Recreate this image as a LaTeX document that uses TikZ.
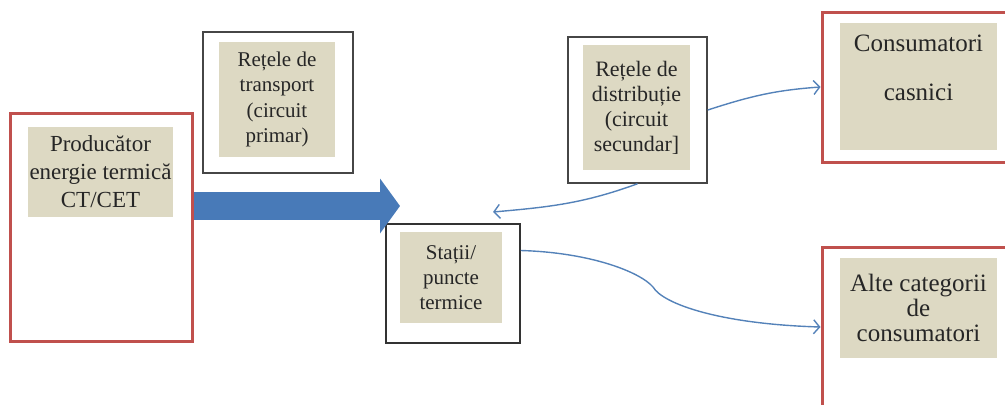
\documentclass[tikz,border=0pt]{standalone}
\usepackage{fontspec}
\setmainfont{Liberation Serif}
\usetikzlibrary{arrows.meta, positioning}
\definecolor{framered}{RGB}{192,80,77}
\definecolor{framegray}{RGB}{70,70,70}
\definecolor{panelbeige}{RGB}{221,217,195}
\definecolor{flowblue}{RGB}{72,122,184}
\definecolor{linkblue}{RGB}{84,130,185}

\begin{document}
\begin{tikzpicture}[x=0.5pt, y=0.5pt,
  redframe/.style={draw=framered, line width=1.5pt, fill=white, inner sep=0pt},
  grayframe/.style={draw=framegray, line width=0.75pt, fill=white, inner sep=0pt},
  panel/.style={fill=panelbeige, align=center, inner sep=0pt, text=black!85},
  link/.style={draw=linkblue, line width=0.7pt, -{Straight Barb[length=3pt, width=7pt]}}]
  \useasboundingbox (0,0) rectangle (1005,404);
  \clip (0,0) rectangle (1005,404);

  % producer
  \node[redframe, minimum width=91pt, minimum height=114pt] (prod) at (101,177) {};
  \node[panel, minimum width=72.5pt, minimum height=45pt, font=\fontsize{11.5}{14}\selectfont] (prodtxt) at (100.5,232) {Producător\\energie termică\\CT/CET};

  % primary network
  \node[grayframe, minimum width=75pt, minimum height=70.5pt] (transp) at (278,301.5) {};
  \node[panel, minimum width=58pt, minimum height=57.5pt, font=\fontsize{10.5}{12.75}\selectfont] (transptxt) at (277,304.5) {Rețele de\\transport\\(circuit\\primar)};

  % substations
  \node[grayframe, draw=black!80, minimum width=67pt, minimum height=59.5pt] (statii) at (453,120.5) {};
  \node[panel, minimum width=51pt, minimum height=45.5pt, font=\fontsize{10.5}{12.5}\selectfont] (statiitxt) at (451,126.5) {Stații/\\puncte\\termice};

  % secondary network
  \node[grayframe, minimum width=69.5pt, minimum height=73pt] (distr) at (637.5,294) {};
  \node[panel, minimum width=53.5pt, minimum height=62.5pt, font=\fontsize{11}{12.5}\selectfont] (distrtxt) at (636.5,296.5) {Rețele de\\distribuție\\(circuit\\secundar]};

  % consumers
  \node[redframe, minimum width=99pt, minimum height=75pt] (casn) at (921,317) {};
  \node[panel, minimum width=78.5pt, minimum height=63.5pt] (casnpanel) at (918.5,317.5) {};
  \node[align=center, text=black!85, font=\fontsize{12.5}{24.5}\selectfont] (casntxt) at (918.5,336.5) {Consumatori\\casnici};

  \node[redframe, minimum width=99pt, minimum height=86.5pt] (alte) at (921,70.5) {};
  \node[panel, minimum width=78.5pt, minimum height=50pt, font=\fontsize{12.5}{12.5}\selectfont] (altetxt) at (918.5,96) {Alte categorii\\de\\consumatori};

  % flows
  \coordinate (flowtip) at (400,198);
  \coordinate (statiiin) at (493,192);
  \draw[flowblue, line width=14pt, -{Triangle[length=10pt, width=27pt]}] (prod.east |- flowtip) -- (flowtip);
  \draw[link] (distr.east) to[out=18, in=184] (casn.west);
  \draw[link] (distr.south) to[out=200, in=5] (statiiin);
  \draw[link] ([yshift=16.5pt]statii.east) .. controls +(70,-2) and (640,132) .. (653,117)
    .. controls (663,100) and (720,80) .. ([yshift=3.25pt]alte.west);
\end{tikzpicture}
\end{document}
